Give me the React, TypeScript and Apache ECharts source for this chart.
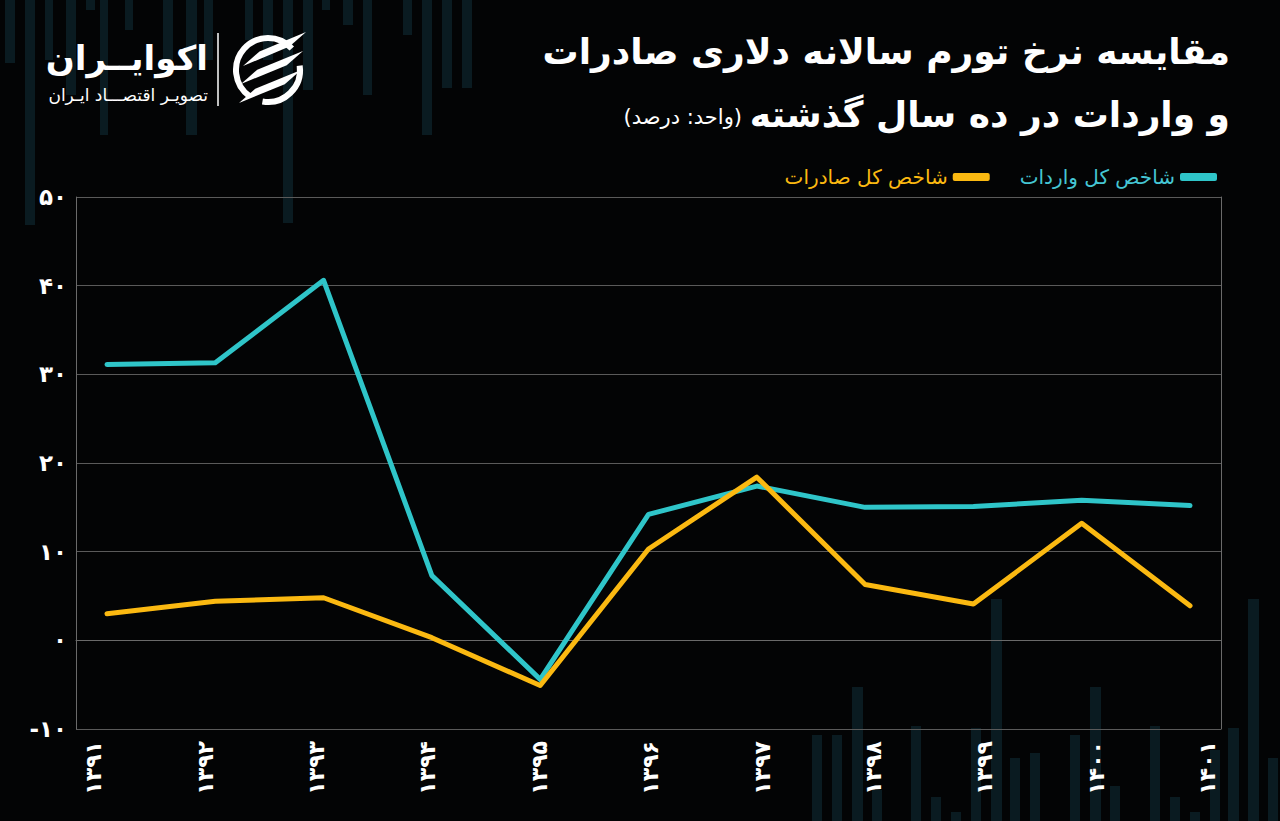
import React, { useEffect, useRef } from "react";
import * as echarts from "echarts";

const years = [1391, 1392, 1393, 1394, 1395, 1396, 1397, 1398, 1399, 1400, 1401];
const importsIndex = [31.1, 31.3, 40.6, 7.3, -4.4, 14.2, 17.4, 15.0, 15.1, 15.8, 15.2];
const exportsIndex = [3.0, 4.4, 4.8, 0.3, -5.1, 10.3, 18.4, 6.3, 4.1, 13.2, 3.9];
const yMin = -10;
const yMax = 50;
const yStep = 10;

const seriesNames = { imports: "شاخص کل واردات", exports: "شاخص کل صادرات" };
const titleLine1 = "مقایسه نرخ تورم سالانه دلاری صادرات";
const titleLine2 = "و واردات در ده سال گذشته";
const unitText = "\u200F(واحد: درصد)\u200F";
const brandName = "اکوایــران";
const brandSub = "تصویـر اقتصـــاد ایـران";

// decorative background columns: [x, width, yStart, yEnd]
const decoTop = [
  [5, 10, 0, 63], [25, 10, 0, 225], [45, 8, 0, 60], [66, 10, 0, 95], [86, 9, 0, 10],
  [100, 8, 0, 135], [125, 8, 0, 30], [163, 10, 0, 60], [186, 11, 0, 135], [204, 9, 0, 60],
  [245, 8, 0, 40], [263, 10, 0, 60], [283, 10, 0, 223], [303, 10, 0, 90], [322, 8, 0, 10],
  [343, 10, 0, 25], [363, 9, 0, 95], [403, 9, 0, 35], [422, 10, 0, 135], [442, 10, 0, 88],
  [462, 10, 0, 88],
];
const decoBottom = [
  [812, 10, 735], [832, 10, 735], [852, 11, 687], [872, 10, 790], [911, 10, 726],
  [931, 10, 797], [951, 10, 812], [971, 10, 728], [991, 11, 599], [1010, 10, 758],
  [1030, 10, 753], [1070, 10, 735], [1090, 11, 687], [1110, 10, 786], [1150, 10, 726],
  [1170, 10, 797], [1190, 10, 812], [1210, 10, 750], [1228, 11, 728], [1248, 11, 599],
  [1268, 10, 758],
];

const FONT = "DejaVu Sans";
const CYAN = "#2fc5c9";
const YELLOW = "#fbb911";
const faDigits = "۰۱۲۳۴۵۶۷۸۹";
const toFa = (v: number | string) => String(v).replace(/\d/g, (d) => faDigits[+d]);

function leaf(ax: number, ay: number, bx: number, by: number, t: number) {
  const dx = bx - ax, dy = by - ay;
  const L = Math.hypot(dx, dy);
  const ux = dx / L, uy = dy / L;
  const nx = uy, ny = -ux;
  return [
    [ax, ay],
    [ax + ux * L * 0.3 + nx * t, ay + uy * L * 0.3 + ny * t],
    [bx, by],
    [ax + ux * L * 0.7 - nx * t, ay + uy * L * 0.7 - ny * t],
  ];
}

export default function App() {
  const ref = useRef<HTMLDivElement>(null);
  useEffect(() => {
    document.body.style.margin = "0";
    const chart = echarts.init(ref.current!, null, { renderer: "svg" });
    const deco: any[] = [];
    decoTop.forEach(([x, w, y0, y1]) =>
      deco.push({ type: "rect", z: -5, silent: true, shape: { x, y: y0, width: w, height: y1 - y0 }, style: { fill: "#0a1b21" } })
    );
    decoBottom.forEach(([x, w, y0]) =>
      deco.push({ type: "rect", z: -5, silent: true, shape: { x, y: y0, width: w, height: 821 - y0 }, style: { fill: "#0a1b21" } })
    );
    const cx = 268, cy = 70, r = 32;
    const logo: any[] = [
      { type: "arc", z: 10, shape: { cx, cy, r, startAngle: (125 * Math.PI) / 180, endAngle: (318 * Math.PI) / 180, clockwise: true }, style: { stroke: "#fff", lineWidth: 6, fill: null } },
      { type: "arc", z: 10, shape: { cx, cy, r, startAngle: (-8 * Math.PI) / 180, endAngle: (100 * Math.PI) / 180, clockwise: true }, style: { stroke: "#fff", lineWidth: 6, fill: null } },
      { type: "polygon", z: 11, shape: { points: leaf(243, 66, 306, 32, 5) }, style: { fill: "#fff" } },
      { type: "polygon", z: 11, shape: { points: leaf(241, 84, 303, 51, 5) }, style: { fill: "#fff" } },
      { type: "polygon", z: 11, shape: { points: leaf(239, 103, 301, 70, 5) }, style: { fill: "#fff" } },
      { type: "line", z: 10, shape: { x1: 218, y1: 33, x2: 218, y2: 106 }, style: { stroke: "#fff", lineWidth: 1.5 } },
      { type: "text", z: 10, x: 208, y: 58, style: { text: brandName, font: `bold 34px "${FONT}"`, fill: "#fff", align: "right", verticalAlign: "middle" } },
      { type: "text", z: 10, x: 208, y: 95, style: { text: brandSub, font: `17px "${FONT}"`, fill: "#fff", align: "right", verticalAlign: "middle" } },
    ];
    const titles: any[] = [
      { type: "text", z: 10, x: 1230, y: 51, style: { text: titleLine1, font: `bold 36px "${FONT}"`, fill: "#fff", align: "right", verticalAlign: "middle" } },
      { type: "text", z: 10, x: 1230, y: 114, style: { text: titleLine2, font: `bold 36px "${FONT}"`, fill: "#fff", align: "right", verticalAlign: "middle" } },
      { type: "text", z: 10, x: 742, y: 117, style: { text: unitText, font: `21px "${FONT}"`, fill: "#fff", align: "right", verticalAlign: "middle" } },
    ];

    const option: any = {
      animation: false,
      backgroundColor: "#030405",
      textStyle: { fontFamily: FONT },
      graphic: { elements: [...deco, ...logo, ...titles] },
      legend: {
        right: 58,
        top: 162,
        align: "right",
        itemWidth: 37,
        itemHeight: 8,
        itemGap: 30,
        icon: "roundRect",
        data: [
          { name: seriesNames.exports, textStyle: { color: YELLOW } },
          { name: seriesNames.imports, textStyle: { color: "#45c6d4" } },
        ],
        textStyle: { fontSize: 20, fontFamily: FONT },
      },
      grid: { left: 76, right: 59, top: 197, bottom: 92 },
      xAxis: [
        {
          type: "value",
          min: 1390.714,
          max: 1401.286,
          axisLine: { show: true, lineStyle: { color: "#6a6a6a", width: 1 } },
          axisTick: { show: false },
          axisLabel: { show: false },
          splitLine: { show: false },
        },
        {
          type: "value",
          position: "bottom",
          min: 1390.842,
          max: 1401.119,
          axisLine: { show: false },
          axisTick: { show: false },
          splitLine: { show: false },
          axisLabel: {
            customValues: years,
            rotate: 90,
            margin: 12,
            color: "#fff",
            fontSize: 22,
            fontWeight: "bold",
            fontFamily: FONT,
            formatter: (v: number) => toFa(v),
          },
        },
      ],
      yAxis: [
        {
          type: "value",
          min: yMin,
          max: yMax,
          interval: yStep,
          axisLine: { show: true, lineStyle: { color: "#6a6a6a", width: 1 } },
          axisTick: { show: false },
          splitLine: { show: true, lineStyle: { color: "#5a5a5a", width: 1 } },
          axisLabel: {
            color: "#fff",
            fontSize: 23,
            fontWeight: "bold",
            fontFamily: FONT,
            margin: 9,
            formatter: (v: number) => toFa(v),
          },
        },
        {
          type: "value",
          position: "right",
          min: yMin,
          max: yMax,
          interval: yStep,
          axisLine: { show: true, lineStyle: { color: "#6a6a6a", width: 1 } },
          axisTick: { show: false },
          axisLabel: { show: false },
          splitLine: { show: false },
        },
      ],
      series: [
        {
          name: seriesNames.imports,
          type: "line",
          xAxisIndex: 0,
          yAxisIndex: 0,
          data: years.map((y, i) => [y, importsIndex[i]]),
          symbol: "none",
          color: CYAN,
          lineStyle: { color: CYAN, width: 5, cap: "round", join: "round" },
          z: 3,
        },
        {
          name: seriesNames.exports,
          type: "line",
          xAxisIndex: 0,
          yAxisIndex: 0,
          data: years.map((y, i) => [y, exportsIndex[i]]),
          symbol: "none",
          color: YELLOW,
          lineStyle: { color: YELLOW, width: 5, cap: "round", join: "round" },
          z: 4,
        },
      ],
    };
    chart.setOption(option);
    return () => chart.dispose();
  }, []);
  return (
    <div
      ref={ref}
      style={{ position: "fixed", left: 0, top: 0, width: "1280px", height: "821px", background: "#030405" }}
    />
  );
}
